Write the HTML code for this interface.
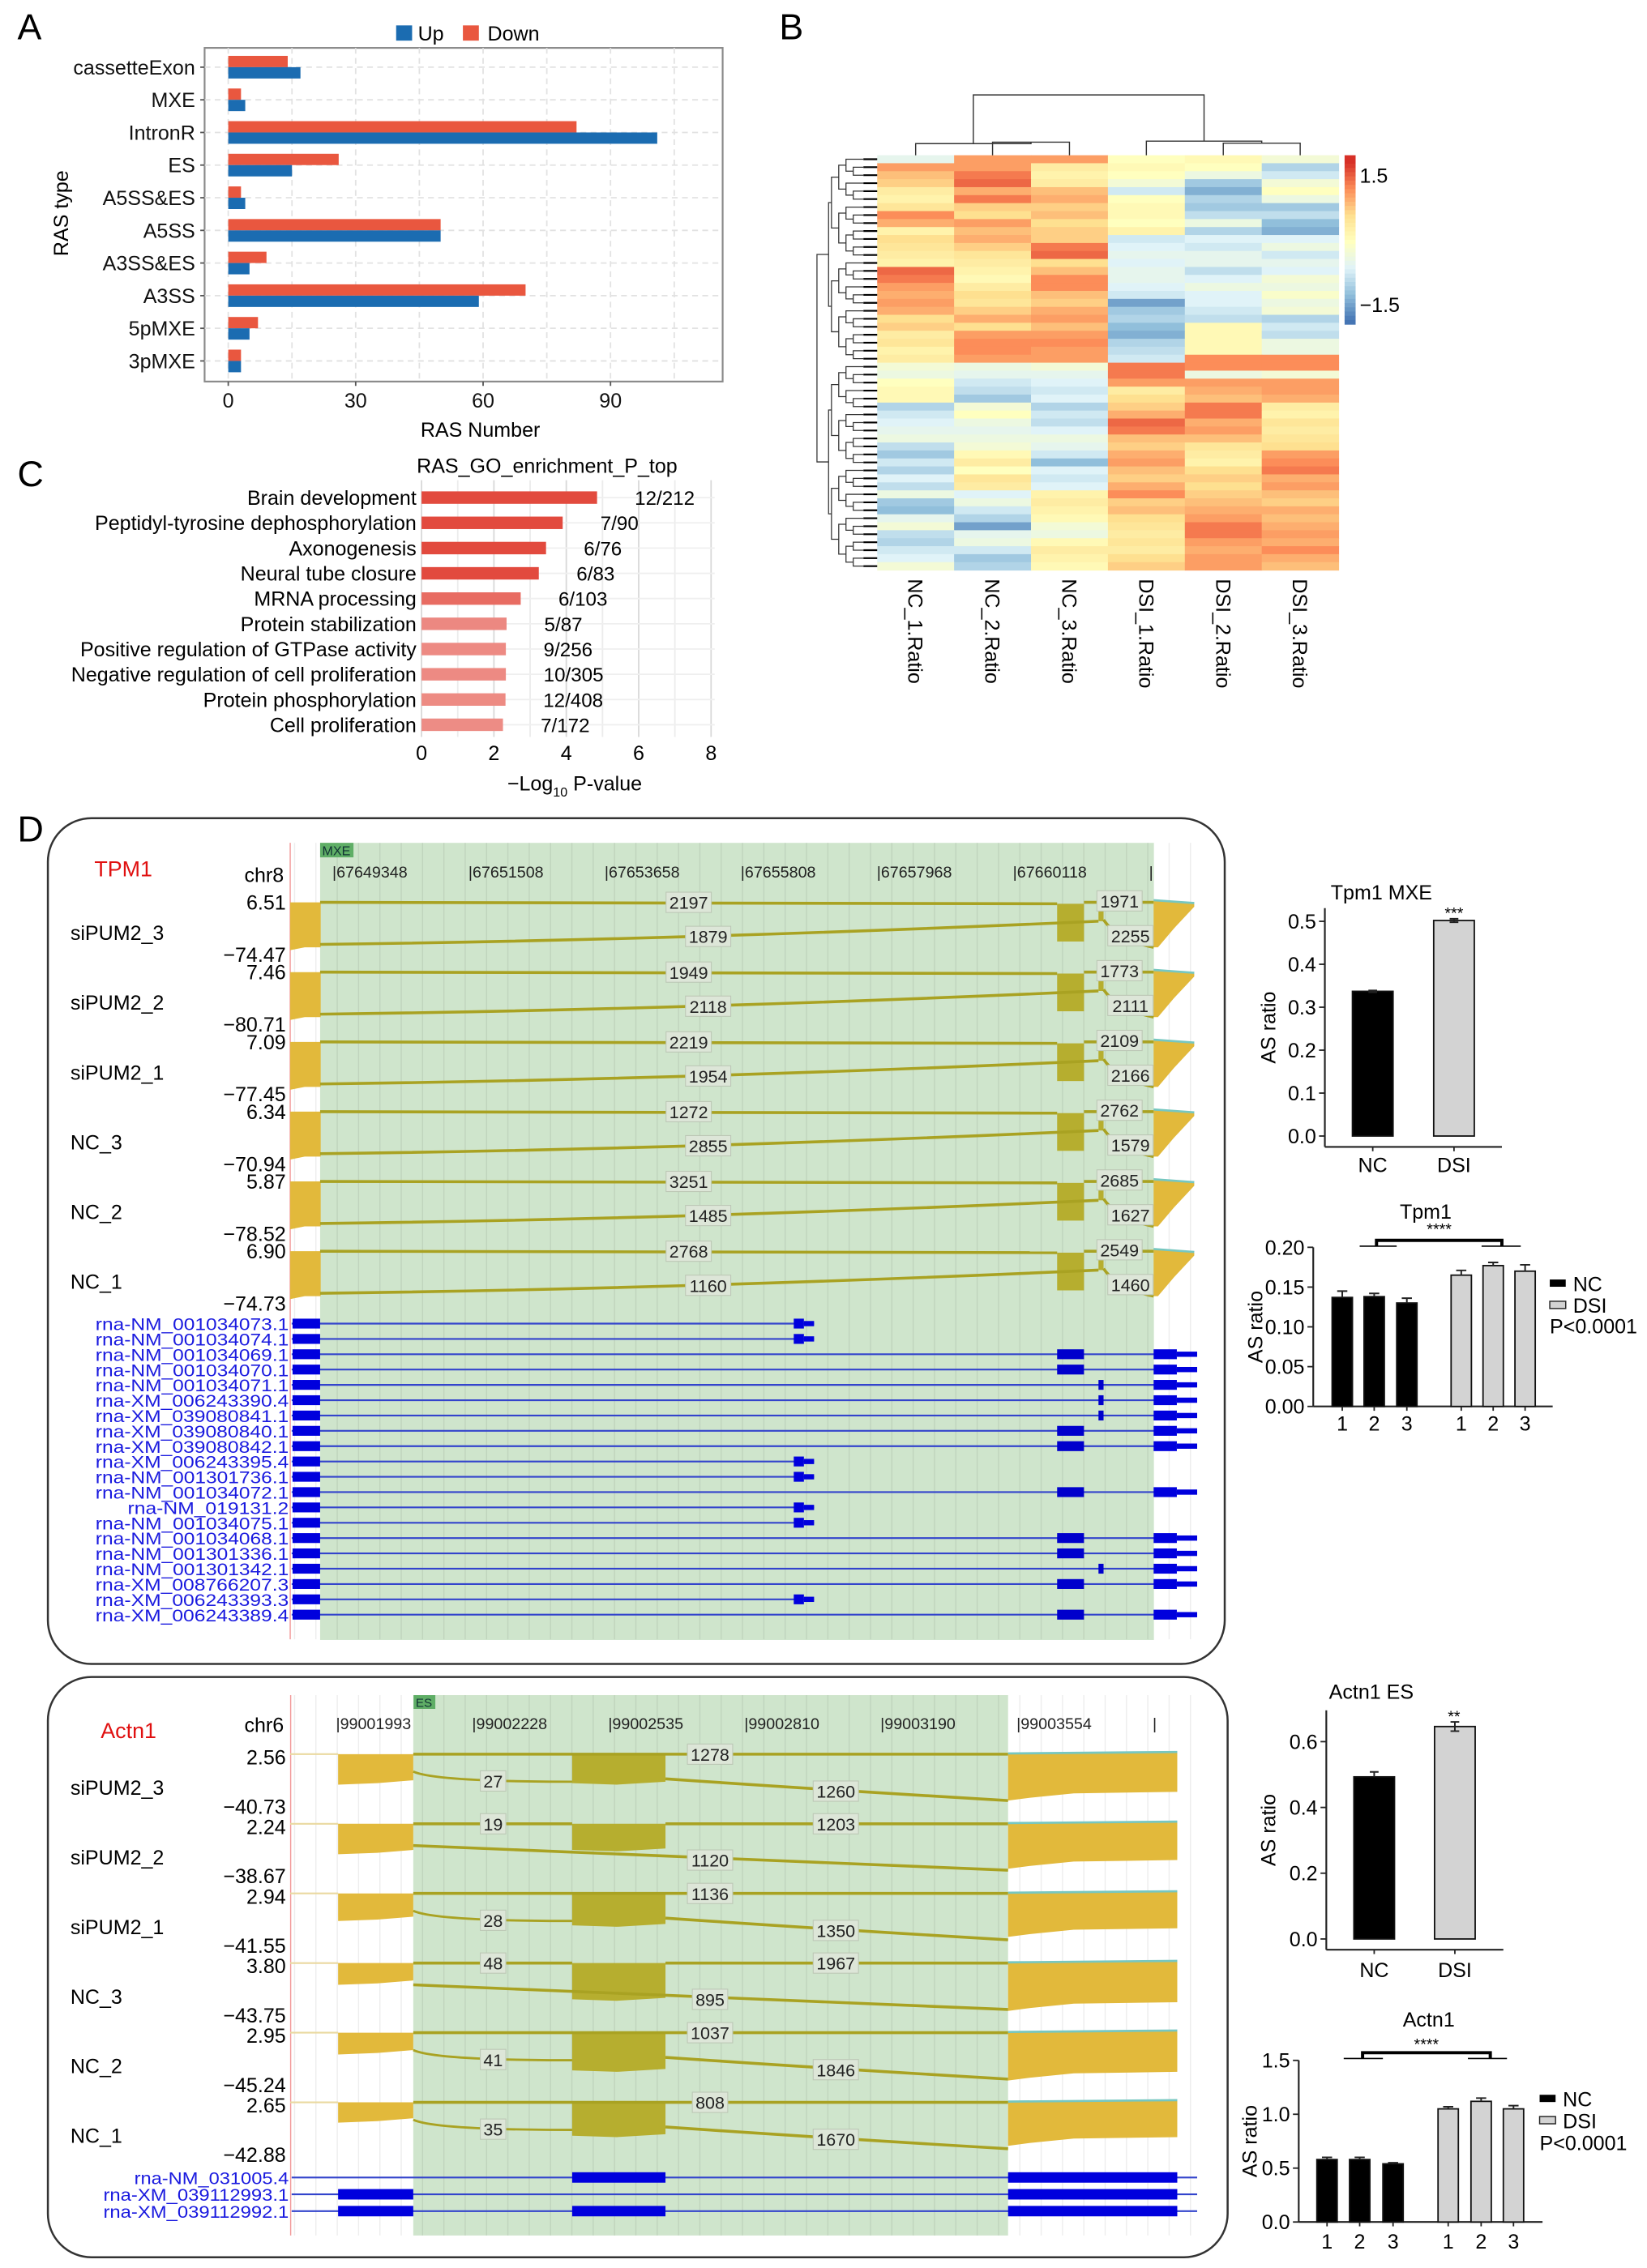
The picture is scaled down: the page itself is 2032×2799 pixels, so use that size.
<!DOCTYPE html>
<html><head><meta charset="utf-8">
<style>
html,body{margin:0;padding:0;background:#fff;}
svg{display:block;font-family:"Liberation Sans",sans-serif;}
</style></head>
<body>
<svg id="fig" xmlns="http://www.w3.org/2000/svg" width="2032" height="2799" viewBox="0 0 1135 1563.4">
<rect x="0" y="0" width="1135" height="1563.4" fill="#fff"/>
<text x="12" y="27" font-size="25">A</text>
<text x="537" y="27" font-size="25">B</text>
<text x="12" y="335" font-size="25">C</text>
<text x="12" y="580" font-size="25">D</text>
<rect x="33" y="564" width="811" height="583" rx="30" fill="none" stroke="#333" stroke-width="1.4"/>
<rect x="33" y="1156" width="813" height="400" rx="30" fill="none" stroke="#333" stroke-width="1.4"/>
<g id="layer"></g>
</svg>
<script>
// ---------- DATA ----------
const rasCats=['cassetteExon','MXE','IntronR','ES','A5SS&ES','A5SS','A3SS&ES','A3SS','5pMXE','3pMXE'];
const rasUp=[17,4,101,15,4,50,5,59,5,3];
const rasDown=[14,3,82,26,3,50,9,70,7,3];
const rasTicks=[0,30,60,90];

const hmCols=['NC_1.Ratio','NC_2.Ratio','NC_3.Ratio','DSI_1.Ratio','DSI_2.Ratio','DSI_3.Ratio'];
const hmRows=[
[-0.4,0.9,0.9,0.0,0.1,-0.2],[0.9,0.9,0.3,0.1,0.0,-0.8],[0.7,1.1,0.2,0.0,-0.3,-0.6],[0.6,1.2,0.3,-0.2,-0.9,-0.2],
[0.3,0.8,0.7,-0.6,-1.1,0.0],[0.2,1.1,0.8,0.0,-0.8,-0.3],[0.4,0.6,0.6,0.1,-0.9,-0.9],[1.0,0.5,0.7,0.1,-0.7,-0.7],
[0.8,0.9,0.5,0.0,-0.3,-1.0],[0.2,0.7,0.6,0.2,-0.8,-1.1],[0.5,0.8,0.6,-0.6,-0.5,-0.5],[0.4,0.6,1.1,-0.5,-0.6,-0.3],
[0.3,0.4,1.2,-0.4,-0.4,-0.6],[0.2,0.3,0.5,-0.5,-0.4,-0.4],[1.2,0.2,0.7,-0.4,-0.7,-0.5],[1.1,0.1,1.0,-0.4,-0.5,-0.2],
[0.9,0.3,1.0,-0.5,-0.3,-0.3],[0.8,0.5,0.7,-0.6,-0.5,-0.1],[0.9,0.4,0.6,-1.2,-0.5,-0.3],[0.8,0.6,0.8,-0.9,-0.6,-0.2],
[0.5,0.8,0.9,-0.8,-0.7,-0.8],[0.6,0.5,0.7,-1.0,0.1,-0.6],[0.3,0.9,0.9,-1.1,0.1,-0.7],[0.4,1.0,1.0,-0.8,0.1,-0.3],
[0.2,1.0,0.9,-0.7,0.1,-0.3],[0.3,0.9,0.9,-0.6,1.0,1.0],
[-0.2,-0.3,-0.2,1.1,1.0,1.0],[-0.3,-0.4,-0.4,1.1,-0.3,-0.2],[0.0,-0.6,-0.5,0.9,0.9,0.9],[0.1,-0.7,-0.6,0.3,0.8,0.9],
[0.1,-0.9,-0.5,0.5,0.7,0.8],[-0.8,-0.2,-0.8,0.6,1.1,0.3],[-0.6,0.0,-0.6,0.8,1.1,0.2],[-0.5,-0.3,-0.7,1.2,0.8,0.4],
[-0.4,-0.4,-0.5,1.1,0.9,0.3],[-0.3,-0.3,-0.3,0.7,0.7,0.4],[-0.7,-0.2,-0.4,0.6,0.4,0.5],[-0.9,0.1,-0.6,0.8,0.3,0.9],
[-0.6,0.3,-1.0,0.9,0.2,1.0],[-0.8,0.0,-0.5,0.7,0.5,1.1],[-0.5,0.4,-0.6,0.6,0.6,0.8],[-0.7,0.3,-0.5,0.8,0.5,0.9],
[-0.3,-0.5,0.2,1.0,0.6,0.7],[-0.9,-0.3,0.3,0.6,0.7,0.6],[-1.0,-0.6,0.2,0.7,0.8,0.8],[-0.4,-0.8,0.1,0.5,0.9,0.7],
[-0.2,-1.2,-0.2,0.4,1.1,0.8],[-0.7,-0.4,-0.3,0.3,1.1,0.9],[-0.8,-0.3,0.1,0.4,0.9,0.8],[-0.6,-0.6,0.3,0.3,0.8,1.0],
[-0.5,-0.9,0.2,0.5,0.9,0.8],[-0.2,-0.8,0.1,0.6,0.9,0.7]];

const goTerms=['Brain development','Peptidyl-tyrosine dephosphorylation','Axonogenesis','Neural tube closure','MRNA processing','Protein stabilization','Positive regulation of GTPase activity','Negative regulation of cell proliferation','Protein phosphorylation','Cell proliferation'];
const goValues=[4.85,3.9,3.44,3.24,2.74,2.35,2.33,2.33,2.32,2.25];
const goCounts=['12/212','7/90','6/76','6/83','6/103','5/87','9/256','10/305','12/408','7/172'];
const goTicks=[0,2,4,6,8];

const tpmSamples=['siPUM2_3','siPUM2_2','siPUM2_1','NC_3','NC_2','NC_1'];
const tpmMax=['6.51','7.46','7.09','6.34','5.87','6.90'];
const tpmMin=['\u221274.47','\u221280.71','\u221277.45','\u221270.94','\u221278.52','\u221274.73'];
const tpmLongUp=[2197,1949,2219,1272,3251,2768];
const tpmLongDn=[1879,2118,1954,2855,1485,1160];
const tpmShortUp=[1971,1773,2109,2762,2685,2549];
const tpmShortDn=[2255,2111,2166,1579,1627,1460];
const tpmCoords=['67649348','67651508','67653658','67655808','67657968','67660118',''];
const tpmTx=['rna-NM_001034073.1','rna-NM_001034074.1','rna-NM_001034069.1','rna-NM_001034070.1','rna-NM_001034071.1','rna-XM_006243390.4','rna-XM_039080841.1','rna-XM_039080840.1','rna-XM_039080842.1','rna-XM_006243395.4','rna-NM_001301736.1','rna-NM_001034072.1','rna-NM_019131.2','rna-NM_001034075.1','rna-NM_001034068.1','rna-NM_001301336.1','rna-NM_001301342.1','rna-XM_008766207.3','rna-XM_006243393.3','rna-XM_006243389.4'];
const tpmTxType=['S','S','B','B','M','M','M','B','B','S','S','B','S','S','B','B','M','B','S','B'];

const actnSamples=['siPUM2_3','siPUM2_2','siPUM2_1','NC_3','NC_2','NC_1'];
const actnMax=['2.56','2.24','2.94','3.80','2.95','2.65'];
const actnMin=['\u221240.73','\u221238.67','\u221241.55','\u221243.75','\u221245.24','\u221242.88'];
const actnSkip=[1278,1120,1136,895,1037,808];
const actnInc1=[27,19,28,48,41,35];
const actnInc2=[1260,1203,1350,1967,1846,1670];
const actnSkipUpper=[1,0,1,0,1,1];
const actnLeftDepth=[19,19,17,13,13,12];
const actnMidDepth=[18,16,20,23,24,21];
const actnRightDepth=[30,29,28,31,31,28];
const actnCoords=['99001993','99002228','99002535','99002810','99003190','99003554',''];
const actnTx=['rna-NM_031005.4','rna-XM_039112993.1','rna-XM_039112992.1'];
const actnTxLeft=[0,1,1];
const actnTxMid=[1,0,1];

const mxeGroups=['NC','DSI'];
const mxeVals=[0.337,0.502];
const mxeErr=[0.002,0.004];
const mxeTicks=['0.0','0.1','0.2','0.3','0.4','0.5'];
const tpmRepLabels=['1','2','3','1','2','3'];
const tpmRepVals=[0.137,0.138,0.130,0.165,0.177,0.170];
const tpmRepErr=[0.008,0.004,0.006,0.006,0.004,0.008];
const tpmRepTicks=['0.00','0.05','0.10','0.15','0.20'];
const esGroups=['NC','DSI'];
const esVals=[0.493,0.646];
const esErr=[0.015,0.014];
const esTicks=['0.0','0.2','0.4','0.6'];
const actnRepLabels=['1','2','3','1','2','3'];
const actnRepVals=[0.58,0.58,0.54,1.05,1.12,1.05];
const actnRepErr=[0.02,0.02,0.01,0.02,0.03,0.03];
const actnRepTicks=['0.0','0.5','1.0','1.5'];

// ---------- HELPERS ----------
const NS='http://www.w3.org/2000/svg';
const root=document.getElementById('layer');
function mk(tag,attrs,text,parent){const e=document.createElementNS(NS,tag);for(const k in attrs)e.setAttribute(k,attrs[k]);if(text!==undefined)e.textContent=text;(parent||root).appendChild(e);return e;}
let el;

// ---------- PANEL A ----------
const xA=v=>157.3+v*2.927, yA=i=>46.3+i*22.5;
el=mk('rect',{x:141,y:33,width:357,height:230,fill:'#fff',stroke:'#8a8a8a','stroke-width':1.2});


for(let v=0;v<=105;v+=15){
  el=mk('line',{x1:xA(v),x2:xA(v),y1:33,y2:263,stroke:'#e2e2e2','stroke-dasharray':'4,3'});
  
  
}
rasCats.forEach((c,i)=>{
  el=mk('line',{x1:141,x2:498,y1:yA(i),y2:yA(i),stroke:'#e2e2e2','stroke-dasharray':'4,3'});
  
  
  el=mk('rect',{x:xA(0),y:yA(i)-7.8,width:xA(rasDown[i])-xA(0),height:7.8,fill:'#e9573f'});
  
  
  el=mk('rect',{x:xA(0),y:yA(i),width:xA(rasUp[i])-xA(0),height:7.8,fill:'#1b6cb1'});
  
  
  el=mk('line',{x1:138,x2:141,y1:yA(i),y2:yA(i),stroke:'#555'});
  
  
  el=mk('text',{x:134.5,y:yA(i)+5,'font-size':14,'text-anchor':'end',fill:'#111'},c);
  
  
});
rasTicks.forEach(t=>{
  el=mk('line',{x1:xA(t),x2:xA(t),y1:263,y2:266,stroke:'#555'});
  
  
  el=mk('text',{x:xA(t),y:281,'font-size':14,'text-anchor':'middle',fill:'#111'},String(t));
  
  
});
el=mk('text',{x:331,y:301,'font-size':14,'text-anchor':'middle'},'RAS Number');


el=mk('text',{x:47,y:147,'font-size':14,'text-anchor':'middle',transform:'rotate(-90 47 147)'},'RAS type');


el=mk('rect',{x:273,y:17.5,width:11,height:10.5,fill:'#1b6cb1'});


el=mk('text',{x:288,y:28,'font-size':14},'Up');


el=mk('rect',{x:319,y:17.5,width:11,height:10.5,fill:'#e9573f'});


el=mk('text',{x:336,y:28,'font-size':14},'Down');



// ---------- PANEL B ----------
const hmX0=604.5, hmW=53, hmY0=107, hmH=(393-107)/hmRows.length;
const stops=[[-1.5,[69,117,180]],[-1,[145,191,219]],[-0.5,[224,243,248]],[0,[255,255,191]],[0.5,[254,224,144]],[1,[252,141,89]],[1.5,[215,48,39]]];
function hmColor(v){v=Math.max(-1.5,Math.min(1.5,v));for(let k=0;k<stops.length-1;k++){const a=stops[k],b=stops[k+1];if(v<=b[0]){const t=(v-a[0])/(b[0]-a[0]);const c=a[1].map((x,j)=>Math.round(x+(b[1][j]-x)*t));return 'rgb('+c.join(',')+')';}}return 'rgb(215,48,39)';}
hmRows.forEach((row,r)=>{
  row.forEach((v,c)=>{
    el=mk('rect',{x:hmX0+c*hmW,y:hmY0+r*hmH,width:hmW+0.3,height:hmH+0.3,fill:hmColor(v)});
    
    
  });
  el=mk('line',{x1:595,x2:hmX0,y1:hmY0+(r+0.5)*hmH,y2:hmY0+(r+0.5)*hmH,stroke:'#000','stroke-width':1.2});
  
  
});
hmCols.forEach((c,i)=>{
  const cx=hmX0+(i+0.5)*hmW-5;
  el=mk('text',{x:cx,y:399,'font-size':14,transform:'rotate(90 '+cx+' 399)'},c);
  
  
});
function rowTree(lo,hi,depth){
  if(hi-lo<=1) return {y:hmY0+(lo+0.5)*hmH,x:595};
  const mid=Math.floor((lo+hi)/2);
  const a=rowTree(lo,mid,depth+1), b=rowTree(mid,hi,depth+1);
  const x=Math.min(593,563+depth*(depth<2?8:5));
  let e=mk('path',{d:'M'+a.x+','+a.y+'H'+x+'V'+b.y+'H'+b.x,fill:'none',stroke:'#333','stroke-width':0.7});
  
  
  return {x:x,y:(a.y+b.y)/2};
}
rowTree(0,hmRows.length,0);
const cc=i=>hmX0+(i+0.5)*hmW;
[['M'+cc(1)+','+hmY0+'V98H'+cc(2)+'V'+hmY0],['M'+cc(0)+','+hmY0+'V99H'+(cc(1)+cc(2))/2+'V98'],
 ['M'+cc(4)+','+hmY0+'V98.7H'+cc(5)+'V'+hmY0],['M'+cc(3)+','+hmY0+'V97.3H'+(cc(4)+cc(5))/2+'V98.7'],
 ['M'+(cc(0)+(cc(1)+cc(2))/2)/2+',99V65.4H'+(cc(3)+(cc(4)+cc(5))/2)/2+'V97.3']].forEach(d=>{
  el=mk('path',{d:d[0],fill:'none',stroke:'#333','stroke-width':0.8});
  
  
});
for(let k=0;k<40;k++){
  const v=1.6-k*(3.2/40);
  el=mk('rect',{x:926.6,y:107+k*(116.5/40),width:7.6,height:116.5/40+0.3,fill:hmColor(v)});
  
  
}
el=mk('text',{x:937,y:126,'font-size':14},'1.5');


el=mk('text',{x:937,y:215,'font-size':14},'\u22121.5');



// ---------- PANEL C ----------
const xC=v=>290.5+v*24.94, yC=i=>343+i*17.4;
el=mk('text',{x:377,y:326,'font-size':14,'text-anchor':'middle'},'RAS_GO_enrichment_P_top');


for(let v=0;v<=8;v++){
  el=mk('line',{x1:xC(v),x2:xC(v),y1:331,y2:508,stroke:v%2?'#ececec':'#d8d8d8','stroke-width':1});
  
  
}
goTerms.forEach((t,i)=>{
  el=mk('line',{x1:xC(0),x2:xC(8.1),y1:yC(i),y2:yC(i),stroke:'#efefef'});
  
  
  const tt=Math.max(0,Math.min(1,(goValues[i]-2.3)/0.9));
  const col='rgb('+Math.round(237-(237-226)*tt)+','+Math.round(140-(140-74)*tt)+','+Math.round(133-(133-62)*tt)+')';
  el=mk('rect',{x:xC(0),y:yC(i)-4.3,width:xC(goValues[i])-xC(0),height:8.6,fill:col});
  
  
  el=mk('text',{x:287,y:yC(i)+5,'font-size':14,'text-anchor':'end'},t);
  
  
  el=mk('text',{x:xC(goValues[i])+26,y:yC(i)+5,'font-size':13.5},goCounts[i]);
  
  
});
goTicks.forEach(t=>{
  el=mk('text',{x:xC(t),y:524,'font-size':14,'text-anchor':'middle'},String(t));
  
  
});
el=mk('text',{x:396,y:545,'font-size':14,'text-anchor':'middle'});


el.innerHTML='\u2212Log<tspan font-size="9" dy="4">10</tspan><tspan dy="-4"> P-value</tspan>';

// ---------- PANEL D helpers ----------
const GOLD='#e2b93b', OLIVE='#b6ae2f', LINE='#a9a222';
function numBox(x,y,txt){
  const w=String(txt).length*6.8+4;
  let r=mk('rect',{x:x-w/2,y:y-7,width:w,height:14,fill:'#dde6d8',stroke:'#bcc7b5','stroke-width':0.6});
  
  
  let t=mk('text',{x:x,y:y+4.5,'font-size':12,'text-anchor':'middle',fill:'#222'},String(txt));
  
  
}
function vgrid(x0,x1,y0,y1){
  for(let x=x0;x<=x1;x+=14.7){
    let g=mk('line',{x1:x,x2:x,y1:y0,y2:y1,stroke:'#000','stroke-opacity':0.07,'stroke-width':0.8});
    
    
  }
}

// ---------- TPM1 sashimi ----------
el=mk('rect',{x:220.6,y:581,width:574.6,height:549.5,fill:'#cfe5cc'});


vgrid(203,830,581,1130);
el=mk('line',{x1:200,x2:200,y1:581,y2:1130,stroke:'#f29a9a','stroke-width':0.8});


el=mk('rect',{x:220.6,y:581,width:23,height:10,fill:'#5fae66'});


el=mk('text',{x:222,y:589.5,'font-size':9,fill:'#133'},'MXE');


el=mk('text',{x:85,y:604,'font-size':15,'text-anchor':'middle',fill:'#e01010'},'TPM1');


el=mk('text',{x:182,y:608,'font-size':14,'text-anchor':'middle'},'chr8');


tpmCoords.forEach((c,i)=>{
  el=mk('text',{x:229+i*93.8,y:605,'font-size':11,fill:'#222'},'|'+c);
  
  
});
tpmSamples.forEach((s,i)=>{
  const T=622+i*48.1;
  el=mk('text',{x:48.5,y:T+26,'font-size':14},s);
  
  
  el=mk('text',{x:197,y:T+5,'font-size':14,'text-anchor':'end'},tpmMax[i]);
  
  
  el=mk('text',{x:197,y:T+41,'font-size':14,'text-anchor':'end'},tpmMin[i]);
  
  
  el=mk('polygon',{points:`200,${T} 221,${T} 221,${T+31} 210,${T+31} 200,${T+33}`,fill:GOLD});
  
  
  el=mk('rect',{x:728.5,y:T+1,width:18.5,height:26,fill:OLIVE});
  
  
  el=mk('rect',{x:757,y:T+1,width:3.5,height:12,fill:OLIVE});
  
  
  el=mk('polygon',{points:`795,${T-1} 823,${T+1} 823,${T+3} 809,${T+18} 798,${T+31} 795,${T+31}`,fill:GOLD});
  
  
  el=mk('line',{x1:795,x2:823,y1:T-1.5,y2:T+0.5,stroke:'#76c7c0','stroke-width':1.5});
  
  
  el=mk('path',{d:`M220.6,${T} L728.5,${T+1}`,stroke:LINE,'stroke-width':2,fill:'none'});
  
  
  el=mk('path',{d:`M220.6,${T+29} Q470,${T+26} 757,${T+13}`,stroke:LINE,'stroke-width':2,fill:'none'});
  
  
  el=mk('path',{d:`M747,${T} L795,${T}`,stroke:LINE,'stroke-width':2,fill:'none'});
  
  
  el=mk('path',{d:`M760.5,${T+12} Q770,${T+26} 795,${T+31}`,stroke:LINE,'stroke-width':2,fill:'none'});
  
  
  numBox(474.6,T,tpmLongUp[i]);
  numBox(488,T+23.5,tpmLongDn[i]);
  numBox(771.5,T-1,tpmShortUp[i]);
  numBox(779,T+23,tpmShortDn[i]);
});
tpmTx.forEach((n,i)=>{
  const y=912.4+i*10.56, t=tpmTxType[i];
  el=mk('text',{x:199,y:y+4.5,'font-size':12,'text-anchor':'end',fill:'#1a1adf',textLength:n.length*7.4,lengthAdjust:'spacingAndGlyphs'},n);
  
  
  const xEnd=t==='S'?561:825;
  el=mk('line',{x1:201,x2:xEnd,y1:y,y2:y,stroke:'#3344cc','stroke-width':1.2});
  
  
  el=mk('rect',{x:201.6,y:y-3.4,width:19,height:6.8,fill:'#0000dd'});
  
  
  if(t==='S'){
    el=mk('rect',{x:547,y:y-3.4,width:7,height:6.8,fill:'#0000dd'});
    
    
    el=mk('rect',{x:554,y:y-1.8,width:7,height:3.6,fill:'#0000dd'});
    
    
  } else {
    if(t==='B'){el=mk('rect',{x:728.5,y:y-3.4,width:18.5,height:6.8,fill:'#0000cc'});}
    else {el=mk('rect',{x:757,y:y-3.4,width:3.5,height:6.8,fill:'#0000cc'});}
    
    
    el=mk('rect',{x:795,y:y-3.4,width:16,height:6.8,fill:'#0000dd'});
    
    
    el=mk('rect',{x:811,y:y-1.8,width:14,height:3.6,fill:'#0000dd'});
    
    
  }
});

// ---------- ACTN1 sashimi ----------
el=mk('rect',{x:284.8,y:1168.5,width:409.9,height:372.5,fill:'#cfe5cc'});


vgrid(203,830,1168.5,1541);
el=mk('line',{x1:200.3,x2:200.3,y1:1168.5,y2:1541,stroke:'#f29a9a','stroke-width':0.8});


el=mk('rect',{x:285,y:1168.5,width:15,height:9.5,fill:'#5fae66'});


el=mk('text',{x:286.5,y:1176.5,'font-size':8.5,fill:'#133'},'ES');


el=mk('text',{x:88.6,y:1198,'font-size':15,'text-anchor':'middle',fill:'#e01010'},'Actn1');


el=mk('text',{x:182,y:1194,'font-size':14,'text-anchor':'middle'},'chr6');


actnCoords.forEach((c,i)=>{
  el=mk('text',{x:231.5+i*93.8,y:1192,'font-size':11,fill:'#222'},'|'+c);
  
  
});
actnSamples.forEach((s,i)=>{
  const T=1211.2+i*48;
  el=mk('text',{x:48.5,y:T+26,'font-size':14},s);
  
  
  el=mk('text',{x:197,y:T+5,'font-size':14,'text-anchor':'end'},actnMax[i]);
  
  
  el=mk('text',{x:197,y:T+39,'font-size':14,'text-anchor':'end'},actnMin[i]);
  
  
  el=mk('line',{x1:200,x2:233,y1:T-2,y2:T-2,stroke:'#ead9a0','stroke-width':1.2});
  
  
  const ld=actnLeftDepth[i], md=actnMidDepth[i], rd=actnRightDepth[i];
  el=mk('polygon',{points:`233,${T-2} 284.8,${T-2} 284.8,${T+ld-3} 260,${T+ld-1} 233,${T+ld}`,fill:GOLD});
  
  
  el=mk('polygon',{points:`394.3,${T-2} 458.6,${T-2} 458.6,${T+md-1} 425,${T+md+1} 394.3,${T+md}`,fill:OLIVE});
  
  
  el=mk('polygon',{points:`694.7,${T-2} 811.3,${T-3} 811.3,${T+rd-6} 740,${T+rd-5} 710,${T+rd-2} 694.7,${T+rd}`,fill:GOLD});
  
  
  el=mk('line',{x1:694.7,x2:811.3,y1:T-2.5,y2:T-3.5,stroke:'#76c7c0','stroke-width':1.5});
  
  
  if(actnSkipUpper[i]){
    el=mk('path',{d:`M284.8,${T-2} L694.7,${T-2}`,stroke:LINE,'stroke-width':2,fill:'none'});
    
    
    el=mk('path',{d:`M284.8,${T+10} Q300,${T+17} 394.3,${T+17}`,stroke:LINE,'stroke-width':1.6,fill:'none'});
    
    
    el=mk('path',{d:`M458.6,${T+15} Q560,${T+22} 694.7,${T+30}`,stroke:LINE,'stroke-width':2,fill:'none'});
    
    
    numBox(489.3,T-2,actnSkip[i]);
    numBox(339.8,T+16.5,actnInc1[i]);
    numBox(576,T+23.5,actnInc2[i]);
  } else {
    el=mk('path',{d:`M284.8,${T-2} L394.3,${T-2} M458.6,${T-2} L694.7,${T-2}`,stroke:LINE,'stroke-width':2,fill:'none'});
    
    
    el=mk('path',{d:`M284.8,${T+13} Q480,${T+22} 694.7,${T+30}`,stroke:LINE,'stroke-width':2,fill:'none'});
    
    
    numBox(339.8,T-2,actnInc1[i]);
    numBox(576,T-2,actnInc2[i]);
    numBox(489.3,T+23,actnSkip[i]);
  }
});
actnTx.forEach((n,i)=>{
  const y=1501+i*11.6;
  el=mk('text',{x:199,y:y+4.5,'font-size':12,'text-anchor':'end',fill:'#1a1adf',textLength:n.length*7.1,lengthAdjust:'spacingAndGlyphs'},n);
  
  
  el=mk('line',{x1:201,x2:825,y1:y,y2:y,stroke:'#3344cc','stroke-width':1.2});
  
  
  if(actnTxLeft[i]){
    el=mk('rect',{x:233,y:y-3.6,width:51.8,height:7.2,fill:'#0000dd'});
    
    
  }
  if(actnTxMid[i]){
    el=mk('rect',{x:394.3,y:y-3.6,width:64.3,height:7.2,fill:'#0000dd'});
    
    
  }
  el=mk('rect',{x:694.7,y:y-3.6,width:116.6,height:7.2,fill:'#0000dd'});
  
  
});

// ---------- RIGHT BAR CHARTS ----------
function axisY(ax,y0,scale,ticks,top,yTitle){
  let e=mk('line',{x1:ax,x2:ax,y1:top,y2:y0,stroke:'#222','stroke-width':1.2});
  
  
  e=mk('text',{x:yTitle,y:(top+y0)/2,'font-size':14,'text-anchor':'middle',transform:`rotate(-90 ${yTitle} ${(top+y0)/2})`},'AS ratio');
  
  
}
function errBar(cx,yv,ye,w){
  let e=mk('path',{d:`M${cx},${yv} V${ye} M${cx-w},${ye} H${cx+w}`,stroke:'#222','stroke-width':1.1,fill:'none'});
  
  
}
(function(){
  const ax=913,y0=783.1,sc=296,xaY=790.6,cx=[946,1002];
  axisY(ax,xaY,sc,[],626,879);
  mxeTicks.forEach(t=>{const y=y0-parseFloat(t)*sc;
    el=mk('line',{x1:ax-4,x2:ax,y1:y,y2:y,stroke:'#222'});
    
    
    el=mk('text',{x:ax-6,y:y+5,'font-size':14,'text-anchor':'end'},t);
    
    });
  el=mk('line',{x1:ax,x2:1035,y1:xaY,y2:xaY,stroke:'#222','stroke-width':1.2});
  
  
  mxeGroups.forEach((g,i)=>{
    const y=y0-mxeVals[i]*sc;
    el=mk('rect',{x:cx[i]-14,y:y,width:28,height:y0-y,fill:i?'#d3d3d3':'#000',stroke:'#111','stroke-width':1});
    
    
    errBar(cx[i],y,y-mxeErr[i]*sc,3);
    errBar(cx[i],y,y+mxeErr[i]*sc,3);
    el=mk('text',{x:cx[i],y:808,'font-size':14,'text-anchor':'middle'},g);
    
    
    el=mk('line',{x1:cx[i],x2:cx[i],y1:xaY,y2:xaY+3,stroke:'#222'});
    
    
  });
  el=mk('text',{x:1002,y:633,'font-size':11,'text-anchor':'middle'},'***');
  
  
  el=mk('text',{x:952,y:620,'font-size':14,'text-anchor':'middle'},'Tpm1 MXE');
  
  
})();
(function(){
  const ax=914,y0=1336.6,sc=226.7,xaY=1344,cx=[947,1002.6];
  axisY(ax,xaY,sc,[],1179,879);
  esTicks.forEach(t=>{const y=y0-parseFloat(t)*sc;
    el=mk('line',{x1:ax-4,x2:ax,y1:y,y2:y,stroke:'#222'});
    
    
    el=mk('text',{x:ax-6,y:y+5,'font-size':14,'text-anchor':'end'},t);
    
    });
  el=mk('line',{x1:ax,x2:1036,y1:xaY,y2:xaY,stroke:'#222','stroke-width':1.2});
  
  
  esGroups.forEach((g,i)=>{
    const y=y0-esVals[i]*sc;
    el=mk('rect',{x:cx[i]-14,y:y,width:28,height:y0-y,fill:i?'#d3d3d3':'#000',stroke:'#111','stroke-width':1});
    
    
    errBar(cx[i],y,y-esErr[i]*sc,3);
    if(i) errBar(cx[i],y,y+esErr[i]*sc,3);
    el=mk('text',{x:cx[i],y:1363,'font-size':14,'text-anchor':'middle'},g);
    
    
    el=mk('line',{x1:cx[i],x2:cx[i],y1:xaY,y2:xaY+3,stroke:'#222'});
    
    
  });
  el=mk('text',{x:1002,y:1187,'font-size':11,'text-anchor':'middle'},'**');
  
  
  el=mk('text',{x:945,y:1171,'font-size':14,'text-anchor':'middle'},'Actn1 ES');
  
  
})();
function repChart(o,labels,vals,errs,ticks){
  const {ax,y0,sc,xEnd,cx,title,tx,ty,starY,brY,brX,subL,subR,legX,legY,tickLabY,yTitle}=o;
  axisY(ax,y0,sc,[],y0-parseFloat(ticks[ticks.length-1])*sc,yTitle);
  ticks.forEach(t=>{const y=y0-parseFloat(t)*sc;
    el=mk('line',{x1:ax-4,x2:ax,y1:y,y2:y,stroke:'#222'});
    
    
    el=mk('text',{x:ax-6,y:y+5,'font-size':14,'text-anchor':'end'},t);
    
    });
  el=mk('line',{x1:ax,x2:xEnd,y1:y0,y2:y0,stroke:'#222','stroke-width':1.2});
  
  
  labels.forEach((l,i)=>{
    const y=y0-vals[i]*sc;
    el=mk('rect',{x:cx[i]-7,y:y,width:14,height:y0-y,fill:i<3?'#000':'#d3d3d3',stroke:'#111','stroke-width':1});
    
    
    errBar(cx[i],y,y-errs[i]*sc,3.5);
    el=mk('text',{x:cx[i],y:tickLabY,'font-size':14,'text-anchor':'middle'},l);
    
    
    el=mk('line',{x1:cx[i],x2:cx[i],y1:y0,y2:y0+3,stroke:'#222'});
    
    
  });
  el=mk('text',{x:tx,y:ty,'font-size':14,'text-anchor':'middle'},title);
  
  
  el=mk('text',{x:(brX[0]+brX[1])/2,y:starY,'font-size':11,'text-anchor':'middle'},'****');
  
  
  el=mk('path',{d:`M${brX[0]},${brY+4} V${brY} H${brX[1]} V${brY+4}`,stroke:'#000','stroke-width':2.2,fill:'none'});
  
  
  el=mk('path',{d:`M${subL[0]},${brY+4} H${subL[1]} M${subR[0]},${brY+4} H${subR[1]}`,stroke:'#000','stroke-width':0.9,fill:'none'});
  
  
  el=mk('rect',{x:legX,y:legY[0]-3,width:11,height:5,fill:'#000'});
  
  
  el=mk('text',{x:legX+16,y:legY[0]+5,'font-size':14},'NC');
  
  
  el=mk('rect',{x:legX,y:legY[1]-3,width:11,height:5,fill:'#d3d3d3',stroke:'#222','stroke-width':0.8});
  
  
  el=mk('text',{x:legX+16,y:legY[1]+5,'font-size':14},'DSI');
  
  
  el=mk('text',{x:legX,y:legY[2]+5,'font-size':14},'P<0.0001');
  
  
}
repChart({ax:905,y0:969.5,sc:548.5,xEnd:1070,cx:[925,947,969.5,1007,1029,1051],title:'Tpm1',tx:982.5,ty:840,starY:851,brY:855,brX:[948.6,1035],subL:[937,962.5],subR:[1021,1048],legX:1068,legY:[885,900,914],tickLabY:986,yTitle:870},tpmRepLabels,tpmRepVals,tpmRepErr,tpmRepTicks);
repChart({ax:895,y0:1531.7,sc:74.27,xEnd:1063,cx:[914.5,937,960,998,1020.7,1043],title:'Actn1',tx:984.6,ty:1397,starY:1413,brY:1415,brX:[939,1027],subL:[926,953],subR:[1011.6,1038.5],legX:1061,legY:[1447,1462,1477],tickLabY:1550,yTitle:866},actnRepLabels,actnRepVals,actnRepErr,actnRepTicks);
</script>
</body></html>
